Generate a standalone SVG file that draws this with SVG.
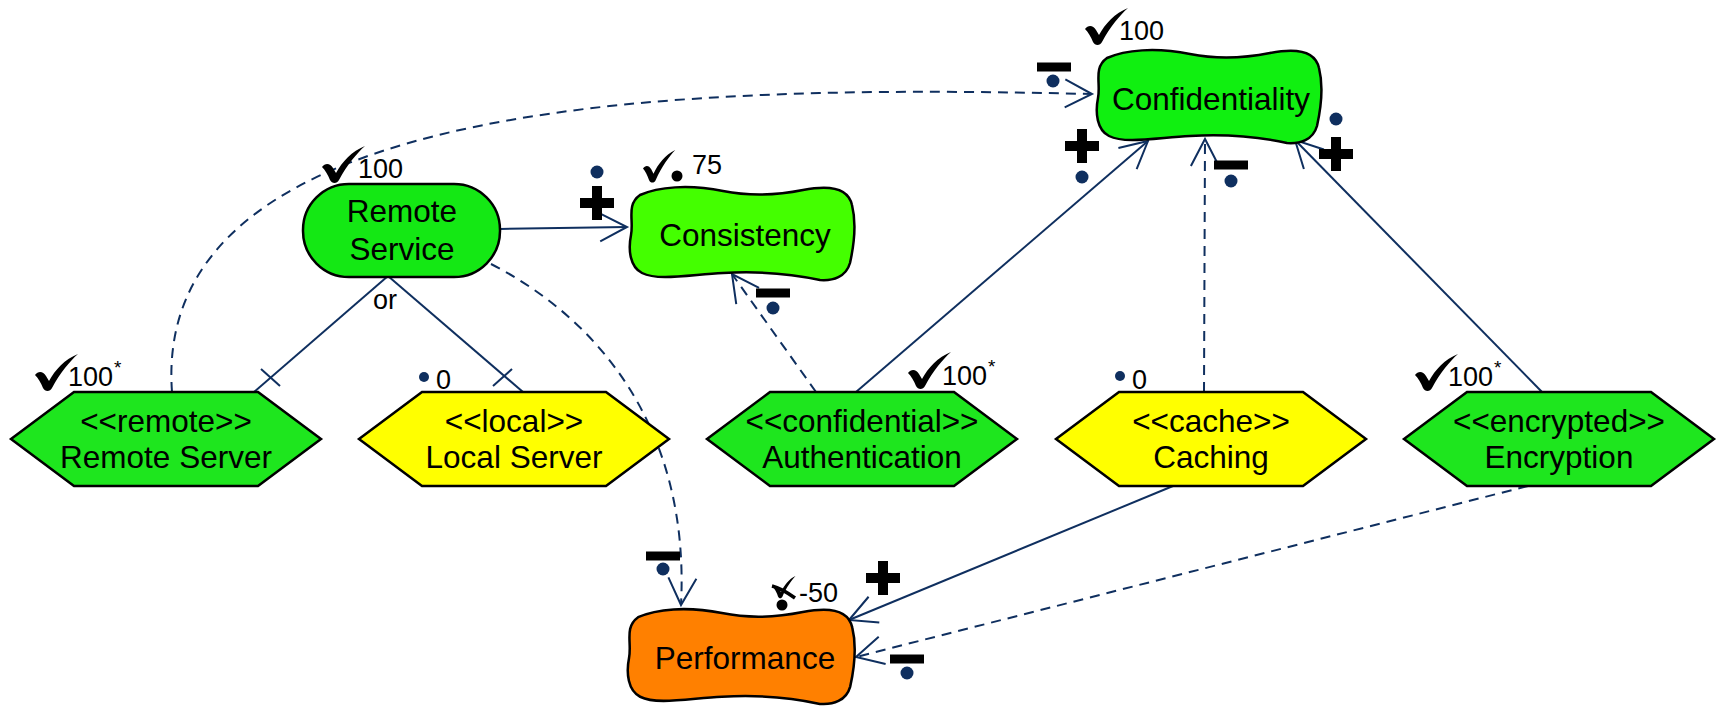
<svg xmlns="http://www.w3.org/2000/svg" xmlns:xlink="http://www.w3.org/1999/xlink" width="1724" height="712" viewBox="0 0 1724 712">
<style>
  .lbl { font-family: "Liberation Sans", Arial, sans-serif; font-size: 31.5px; fill: #000; text-anchor: middle; }
  .ann { font-family: "Liberation Sans", Arial, sans-serif; font-size: 27px; fill: #000; }
  .sup { font-family: "Liberation Sans", Arial, sans-serif; font-size: 19px; fill: #000; }
  .shape { stroke: #000; stroke-width: 2.5; }
  .conn { fill: none; stroke: #0f2f5f; stroke-width: 2; }
  .dash { stroke-dasharray: 10 7; }
  .dot { fill: #0f2f5f; }
  .sym { fill: #000; }
</style>
<defs>
  <marker id="arr" markerUnits="userSpaceOnUse" markerWidth="32" markerHeight="32" viewBox="-30 -16 32 32" refX="0" refY="0" orient="auto" overflow="visible">
    <path d="M-27,-14 L0,0 L-27,14" fill="none" stroke="#0f2f5f" stroke-width="2" stroke-dasharray="none"/>
  </marker>
  <path id="blob" d="M12,10 C30,2 60,-1 95,6 C125,12 150,10 175,5 C200,0 220,2 224,20 C229,40 226,60 222,78 C218,92 205,96 192,95 C160,88 130,86 95,88 C60,90 30,96 14,88 C2,82 0,65 3,50 C6,35 -2,20 12,10 Z"/>
  <path id="check" d="M0,21 C3,17 8,17 11,22 L14,27 C20,16 30,5 43,0 C35,7 25,19 17,34 C15,38 10,38 8,34 C6,29 3,24 0,21 Z"/>
  <path id="plus" d="M-17,-5 H17 V5 H-17 Z M-5,-17 H5 V17 H-5 Z"/>
  <rect id="minus" x="-17" y="-4.5" width="34" height="9"/>
  <polygon id="hex" points="0,47 63,0 247,0 310,47 247,94 63,94"/>
</defs>

<g id="connectors">
  <!-- Remote Service -> Consistency (+) -->
  <path class="conn" d="M500,229 L627,227" marker-end="url(#arr)"/>
  <!-- Remote Service -> Performance (-) -->
  <path class="conn dash" d="M491,264 C600,320 690,430 681,605" marker-end="url(#arr)"/>
  <!-- Remote Server -> Confidentiality (-) -->
  <path class="conn dash" d="M172,392 C150,90 700,85 1092,94" marker-end="url(#arr)"/>
  <!-- OR decomposition -->
  <path class="conn" d="M388,276 L254,392"/>
  <path class="conn" d="M261,369 L280,386"/>
  <path class="conn" d="M388,276 L523,392"/>
  <path class="conn" d="M493,386 L512,369"/>
  <!-- Authentication -> Consistency (-) -->
  <path class="conn dash" d="M816,392 L732,274" marker-end="url(#arr)"/>
  <!-- Authentication -> Confidentiality (+) -->
  <path class="conn" d="M856,392 L1148,141" marker-end="url(#arr)"/>
  <!-- Caching -> Confidentiality (-) -->
  <path class="conn dash" d="M1204,392 L1205,139" marker-end="url(#arr)"/>
  <!-- Encryption -> Confidentiality (+) -->
  <path class="conn" d="M1542,392 L1295,140" marker-end="url(#arr)"/>
  <!-- Caching -> Performance (+) -->
  <path class="conn" d="M1173,486 L849,620" marker-end="url(#arr)"/>
  <!-- Encryption -> Performance (-) -->
  <path class="conn dash" d="M1528,486 L856,657" marker-end="url(#arr)"/>

  <text class="ann" x="385" y="309" text-anchor="middle">or</text>

  <!-- contribution labels -->
  <use href="#plus" class="sym" x="597" y="203"/>
  <circle class="dot" cx="597" cy="172" r="6.5"/>
  <use href="#minus" class="sym" x="1054" y="67"/>
  <circle class="dot" cx="1053" cy="81" r="6.5"/>
  <use href="#plus" class="sym" x="1082" y="146"/>
  <circle class="dot" cx="1082" cy="177" r="6.5"/>
  <use href="#minus" class="sym" x="1231" y="165"/>
  <circle class="dot" cx="1231" cy="181" r="6.5"/>
  <use href="#plus" class="sym" x="1336" y="154"/>
  <circle class="dot" cx="1336" cy="119" r="6.5"/>
  <use href="#minus" class="sym" x="773" y="293"/>
  <circle class="dot" cx="773" cy="308" r="6.5"/>
  <use href="#minus" class="sym" x="663" y="556"/>
  <circle class="dot" cx="663" cy="569" r="6.5"/>
  <use href="#plus" class="sym" x="883" y="578"/>
  <use href="#minus" class="sym" x="907" y="659"/>
  <circle class="dot" cx="907" cy="673" r="6.5"/>
</g>

<g id="confidentiality">
  <use href="#blob" class="shape" fill="#10f010" x="1095" y="48"/>
  <text class="lbl" x="1211" y="110">Confidentiality</text>
  <use href="#check" class="sym" x="1085" y="8"/>
  <text class="ann" x="1119" y="40">100</text>
</g>

<g id="consistency">
  <use href="#blob" class="shape" fill="#44ff00" x="628" y="185"/>
  <text class="lbl" x="745" y="246">Consistency</text>
  <use href="#check" class="sym" transform="translate(643,150) scale(0.75,0.88)"/>
  <circle class="sym" cx="677" cy="176" r="5.5"/>
  <text class="ann" x="692" y="174">75</text>
</g>

<g id="performance">
  <use href="#blob" class="shape" fill="#ff8000" transform="translate(626,607) scale(1.01,1.02)"/>
  <text class="lbl" x="745" y="669">Performance</text>
  <use href="#check" class="sym" transform="translate(774,576) scale(0.5,0.6)"/>
  <path d="M772,586 C780,588 788,593 795,598" stroke="#000" stroke-width="3.5" fill="none"/>
  <circle class="sym" cx="782" cy="605" r="5.5"/>
  <text class="ann" x="799" y="602">-50</text>
</g>

<g id="remote-service">
  <rect class="shape" x="303" y="184" width="197" height="93" rx="46" ry="46" fill="#14e814"/>
  <text class="lbl" x="402" y="222">Remote</text>
  <text class="lbl" x="402" y="260">Service</text>
  <use href="#check" class="sym" x="322" y="146"/>
  <text class="ann" x="358" y="178">100</text>
</g>

<g id="remote-server">
  <use href="#hex" class="shape" fill="#1ee61e" x="11" y="392"/>
  <text class="lbl" x="166" y="432">&lt;&lt;remote&gt;&gt;</text>
  <text class="lbl" x="166" y="468">Remote Server</text>
  <use href="#check" class="sym" x="35" y="354"/>
  <text class="ann" x="68" y="386">100</text>
  <text class="sup" x="114" y="374">*</text>
</g>

<g id="local-server">
  <use href="#hex" class="shape" fill="#ffff00" x="359" y="392"/>
  <text class="lbl" x="514" y="432">&lt;&lt;local&gt;&gt;</text>
  <text class="lbl" x="514" y="468">Local Server</text>
  <circle class="dot" cx="424" cy="377" r="5"/>
  <text class="ann" x="436" y="389">0</text>
</g>

<g id="authentication">
  <use href="#hex" class="shape" fill="#1ee61e" x="707" y="392"/>
  <text class="lbl" x="862" y="432">&lt;&lt;confidential&gt;&gt;</text>
  <text class="lbl" x="862" y="468">Authentication</text>
  <use href="#check" class="sym" x="908" y="352"/>
  <text class="ann" x="942" y="385">100</text>
  <text class="sup" x="988" y="373">*</text>
</g>

<g id="caching">
  <use href="#hex" class="shape" fill="#ffff00" x="1056" y="392"/>
  <text class="lbl" x="1211" y="432">&lt;&lt;cache&gt;&gt;</text>
  <text class="lbl" x="1211" y="468">Caching</text>
  <circle class="dot" cx="1120" cy="376" r="5"/>
  <text class="ann" x="1132" y="389">0</text>
</g>

<g id="encryption">
  <use href="#hex" class="shape" fill="#1ee61e" x="1404" y="392"/>
  <text class="lbl" x="1559" y="432">&lt;&lt;encrypted&gt;&gt;</text>
  <text class="lbl" x="1559" y="468">Encryption</text>
  <use href="#check" class="sym" x="1415" y="354"/>
  <text class="ann" x="1448" y="386">100</text>
  <text class="sup" x="1494" y="374">*</text>
</g>
</svg>
